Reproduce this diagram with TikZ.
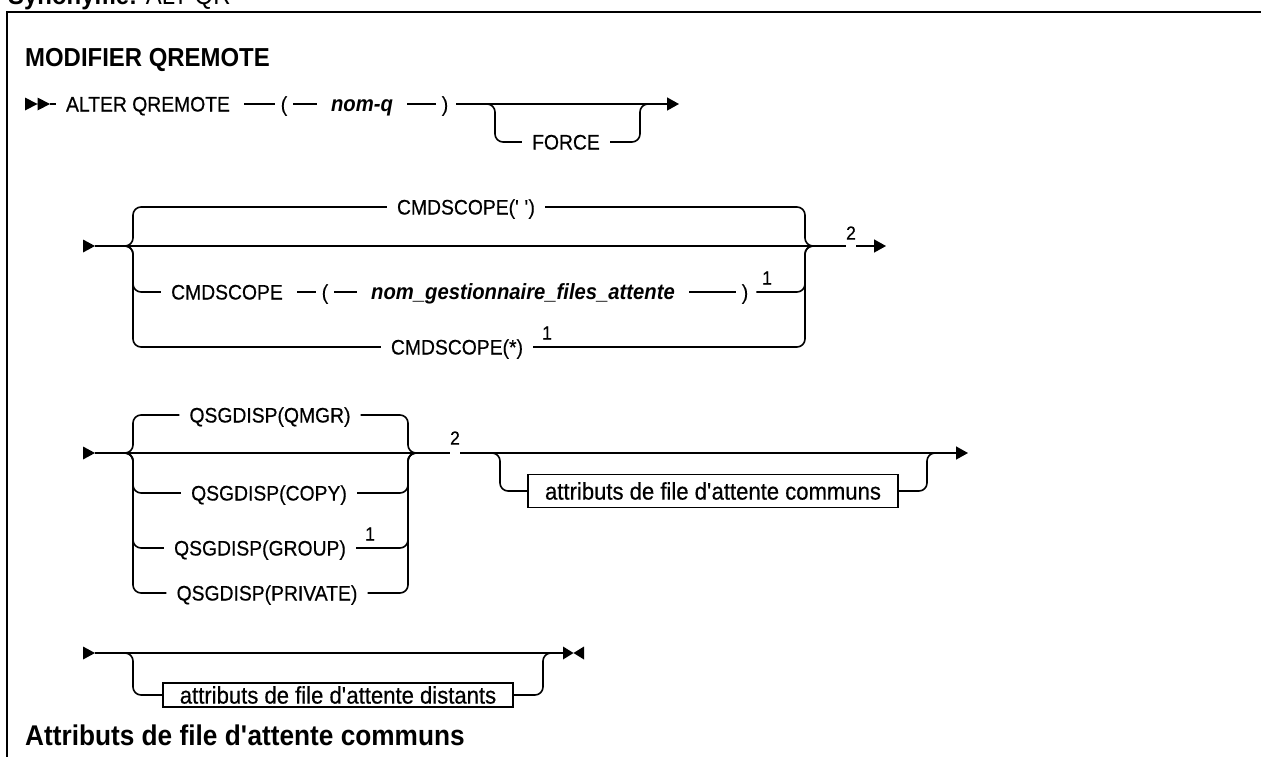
\documentclass[tikz,border=0pt]{standalone}
\usepackage{fontspec}
\setmainfont{Liberation Sans}
\newfontfamily\railfam{Liberation Sans}[FakeStretch=0.92, FakeBold=0.5]
\newfontfamily\headfam{Liberation Sans}[FakeStretch=0.92]
\usetikzlibrary{arrows.meta}
\newcommand{\lblfont}{\railfam\fontsize{21}{24}\selectfont}
\newcommand{\varfont}{\headfam\fontsize{22}{25}\selectfont\bfseries\itshape}
\newcommand{\boxfont}{\railfam\fontsize{24}{26}\selectfont}
\newcommand{\fnfont}{\railfam\fontsize{19}{21}\selectfont}
\newcommand{\headfont}{\headfam\fontsize{26}{30}\selectfont\bfseries}
\newcommand{\q}{\textquotesingle}

\begin{document}
\begin{tikzpicture}[x=1pt, y=-1pt, >={Triangle[length=12pt,width=13pt]},
   rail/.style={line width=1.6pt, rounded corners=8pt},
   seg/.style={line width=1.6pt, shorten <=4pt, shorten >=4pt},
   kw/.style={font=\lblfont, inner xsep=10pt, inner ysep=0pt, text height=18pt, text depth=3pt},
   par/.style={kw, inner xsep=2pt},
   varname/.style={kw, font=\varfont},
   fn/.style={font=\fnfont, inner sep=0pt},
   attrbox/.style={draw, line width=1.4pt, font=\boxfont, inner sep=0pt, minimum height=33pt},
   railstart/.pic={\fill (-12,-6.5) -- (0,0) -- (-12,6.5) -- cycle;},
   railbegin/.pic={\fill (-25,-6.5) -- (-12.5,0) -- (-25,6.5) -- cycle (-12.5,-6.5) -- (0,0) -- (-12.5,6.5) -- cycle;},
   railstop/.pic={\fill (0,-6.5) -- (10.5,0) -- (0,6.5) -- cycle (21,-6.5) -- (10.5,0) -- (21,6.5) -- cycle;}]
  \useasboundingbox (0,0) rectangle (1261,756);
  \clip (0,0) rectangle (1261,756);
  \draw[line width=2.3pt] (7,780) -- (7,12) -- (1280,12);
  \node[anchor=base west, inner sep=0pt, font=\headfam\fontsize{26}{30}\selectfont] (syn) at (8,4) {\textbf{Synonyme:} ALT QR};
  \node[anchor=base west, inner sep=0pt, font=\headfont] (title) at (25,66) {MODIFIER QREMOTE};
  \node[anchor=base west, inner sep=0pt, font=\headfam\fontsize{28.5}{32}\selectfont\bfseries] (sub) at (25,745) {Attributs de file d\q attente communs};

  \coordinate (s1) at (50,104); \coordinate (b1) at (482,104);
  \coordinate (m1) at (652,104); \coordinate (e1) at (679,104);
  \pic at (s1) {railbegin};
  \node[kw] (alter) at (148,104) {ALTER QREMOTE};
  \node[par] (lp1) at (284,104) {(};
  \node[varname] (nomq) at (362,104) {nom-q};
  \node[par] (rp1) at (445,104) {)};
  \node[kw] (force) at (566,142) {FORCE};
  \draw[line width=1.6pt] (s1) -- (alter);
  \draw[seg] (alter) -- (lp1); \draw[seg] (lp1) -- (nomq); \draw[seg] (nomq) -- (rp1);
  \draw[rail,->,shorten <=6pt] (rp1) -- (e1);
  \draw[rail] (b1) -- ++(13,0) |- (force);
  \draw[rail] (force) -| ([xshift=-12pt]m1) -- (m1);

  \coordinate (s2) at (95,246); \coordinate (l2) at (125,246);
  \coordinate (r2) at (813,246); \coordinate (e2) at (886,246);
  \pic at (s2) {railstart};
  \node[fn] (fn2a) at (851,233) {2};
  \draw[rail] (s2) -- (fn2a.west |- s2);
  \draw[rail,->] (fn2a.east |- s2) -- (e2);
  \node[kw] (cs1) at (466,207) {CMDSCOPE(\q\ \q)};
  \node[kw] (cs2) at (227,292) {CMDSCOPE};
  \node[par] (lp2) at (325,292) {(};
  \node[varname] (qmname) at (523,292) {nom\_gestionnaire\_files\_attente};
  \node[par] (rp2) at (745,292) {)};
  \node[fn] (fn1a) at (767,278) {1};
  \node[kw] (cs3) at (457,347) {CMDSCOPE(*)};
  \node[fn] (fn1b) at (547,333) {1};
  \draw[rail] (l2) -- ++(8,0) |- (cs1);
  \draw[rail] (cs1) -| ([xshift=-8pt]r2) -- (r2);
  \draw[rail] (l2) -- ++(8,0) |- (cs2);
  \draw[seg] (cs2) -- (lp2); \draw[seg] (lp2) -- (qmname); \draw[seg] (qmname) -- (rp2);
  \draw[rail,shorten <=6pt] (rp2) -| ([xshift=-8pt]r2) -- (r2);
  \draw[rail] (l2) -- ++(8,0) |- (cs3);
  \draw[rail] (cs3) -| ([xshift=-8pt]r2) -- (r2);

  \coordinate (s3) at (95,453); \coordinate (l3) at (125,453);
  \coordinate (r3) at (416,453); \coordinate (b3) at (490,453);
  \coordinate (m3) at (937,453); \coordinate (e3) at (968,453);
  \pic at (s3) {railstart};
  \node[fn] (fn2b) at (455,438) {2};
  \draw[rail] (s3) -- (fn2b.west |- s3);
  \draw[rail,->] (fn2b.east |- s3) -- (e3);
  \node[kw] (qmgr) at (270,415) {QSGDISP(QMGR)};
  \node[kw] (qcopy) at (269,493) {QSGDISP(COPY)};
  \node[kw] (qgroup) at (260,548) {QSGDISP(GROUP)};
  \node[fn] (fn1c) at (370,534) {1};
  \node[kw] (qpriv) at (267,593) {QSGDISP(PRIVATE)};
  \foreach \opt in {qmgr,qcopy,qgroup,qpriv}{
    \draw[rail] (l3) -- ++(8,0) |- (\opt);
    \draw[rail] (\opt) -| ([xshift=-8pt]r3) -- (r3);
  }
  \node[attrbox, minimum width=370pt] (common) at (713,491) {attributs de file d\q attente communs};
  \draw[rail] (b3) -- ++(10,0) |- (common);
  \draw[rail] (common) -| ([xshift=-10pt]m3) -- (m3);

  \coordinate (s4) at (95,653); \coordinate (l4) at (125,653);
  \coordinate (m4) at (553,653); \coordinate (e4) at (563,653);
  \pic at (s4) {railstart};
  \draw[rail] (s4) -- (e4);
  \pic at (e4) {railstop};
  \node[attrbox, minimum width=350pt, minimum height=24pt] (remote) at (338,695) {attributs de file d\q attente distants};
  \draw[rail] (l4) -- ++(8,0) |- (remote);
  \draw[rail] (remote) -| ([xshift=-10pt]m4) -- (m4);
\end{tikzpicture}
\end{document}
